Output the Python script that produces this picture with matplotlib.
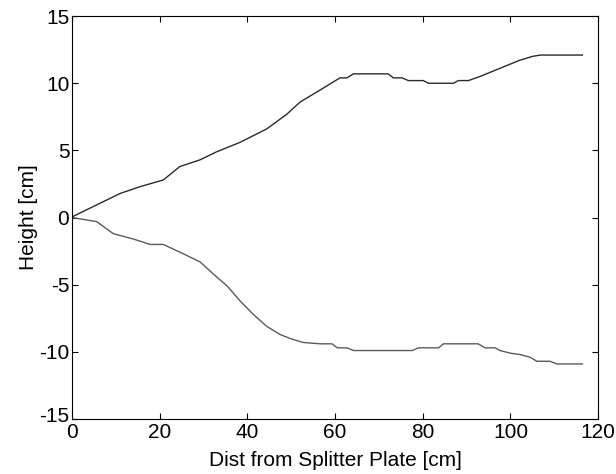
import matplotlib
matplotlib.use("Agg")
import matplotlib.pyplot as plt
from matplotlib.transforms import ScaledTranslation

plt.rcParams['font.family'] = ['Liberation Sans', 'DejaVu Sans']
plt.rcParams['axes.unicode_minus'] = False

upper_x = [0, 6.4, 11, 15.5, 20.8, 24.6, 29.2, 33, 38.3, 44.4, 49, 52, 56.6, 61.1, 62.7, 64.2,
           72.1, 73.3, 75.3, 76.7, 80.1, 81.3, 87, 88.1, 90.4, 93, 96, 99, 102, 105, 106.8, 116.4]
upper_y = [0.05, 1.07, 1.8, 2.3, 2.8, 3.8, 4.3, 4.9, 5.6, 6.6, 7.7, 8.6, 9.5, 10.4, 10.4, 10.7,
           10.7, 10.4, 10.4, 10.2, 10.2, 10.0, 10.0, 10.2, 10.2, 10.5, 10.9, 11.3, 11.7, 12.0, 12.1, 12.1]

lower_x = [0, 5.6, 9.4, 14, 17.8, 20.8, 25.4, 29.2, 32.2, 35.4, 38.3, 41.3, 44.4, 47.4, 49.7, 52.7,
           56.6, 59.3, 60.5, 62.7, 64.2, 77.6, 79, 83.6, 84.7, 92.6, 94.2, 96.5, 97.6, 100, 102.2,
           104.5, 106, 109, 110.6, 116.4]
lower_y = [0, -0.3, -1.2, -1.6, -2.0, -2.0, -2.7, -3.3, -4.2, -5.1, -6.2, -7.2, -8.1, -8.7, -9.0, -9.3,
           -9.4, -9.4, -9.7, -9.7, -9.9, -9.9, -9.7, -9.7, -9.4, -9.4, -9.7, -9.7, -9.9, -10.1, -10.2,
           -10.4, -10.7, -10.7, -10.9, -10.9]

xticks = [0, 20, 40, 60, 80, 100, 120]
yticks = [-15, -10, -5, 0, 5, 10, 15]

fig = plt.figure(figsize=(6.16, 4.74), dpi=100)
ax = fig.add_axes([0.117, 0.116, 0.854, 0.850])
ax.plot(upper_x, upper_y, color='#2a2a2a', lw=1.0)
ax.plot(lower_x, lower_y, color='#5a5a5a', lw=1.0)
ax.set_xlim(0, 120)
ax.set_ylim(-15, 15)
ax.set_xticks(xticks)
ax.set_yticks(yticks)
ax.tick_params(direction='in', top=True, right=True, labelsize=15, length=4, width=0.8, pad=2)
ax.tick_params(axis='x', pad=3)
for s in ax.spines.values():
    s.set_linewidth(0.8)
ax.set_xlabel('Dist from Splitter Plate [cm]', fontsize=15, labelpad=6)
ax.set_ylabel('Height [cm]', fontsize=15, labelpad=1)

# nudge the bottom y tick label up a little so it does not collide with the x "0"
lbl = ax.yaxis.get_majorticklabels()[0]
lbl.set_transform(lbl.get_transform() + ScaledTranslation(0, 3.5 / 72, fig.dpi_scale_trans))

fig.savefig('out.png', dpi=100)
